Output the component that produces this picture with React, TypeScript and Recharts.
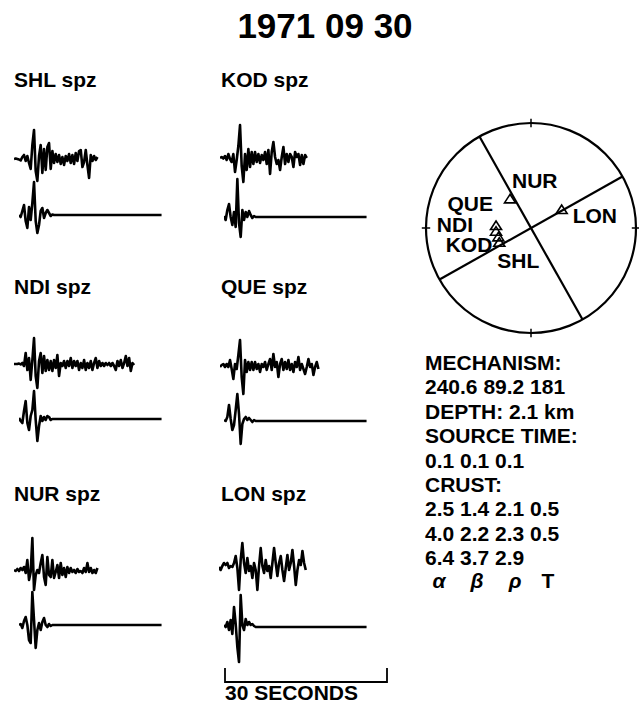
import { LineChart, Line, XAxis, YAxis, ScatterChart, Scatter, ReferenceDot, ReferenceLine } from 'recharts';

// seismogram sampling
const DT = 0.309; // seconds per sample
const SYN_LENGTH = 26.4; // seconds, synthetic trace length
const SCALE_SECONDS = 30;

// observed (top) and synthetic (bottom) traces, amplitude in plot units
const SHL_OBS = [0, 0.5, 0, -0.5, -1.5, 2, 4, -2, 3, -4, -10, 14, 29, -12, -22, 3, 14, -14, 10, -11, 12, 16, -10, 8, -4, 5, -3, 4, -5, 2, -6, 3, -2, 5, -4, 4, -5, 6, -2, 8, 9, -8, -3, 9, -6, -19, 4, -2, 3, -1, 2];
const SHL_SYN = [0, -2, 4, 10, -6, -13, 8, -5, 12, 33, -6, -18, -10, 4, 7, -3, 2, 5, 2, -1, 0.5, 0];

const KOD_OBS = [0, 1, -0.5, 2, -2, 4, -1, -4, 4, -14, -2, 12, 33, -8, -24, 4, -12, 9, -9, 6, -6, 6, -4, 4, -5, 3, -2, 6, -6, 8, -16, 6, 16, 1, -6, -2, -12, 1, 11, -6, 4, -4, 4, 1, -9, 6, 1, 4, -7, 3, -6, 3, 0];
const KOD_SYN = [1, -3, 7, 13, 0, -8, 5, -10, 38, -6, -20, 7, -3, 5, 0, 6, 2, -1, 1, 0];

const NDI_OBS = [0, 0, 0, 0.5, -0.5, 1, -2, 11, -6, 6, -16, 4, 26, -12, -24, 3, 11, -9, 8, -7, 4, -6, 3, -7, 4, -4, 9, -12, 1, -2, 3, -4, 3, -2, 6, -4, 3, -2, 3, -6, 1, -4, 4, -6, 1, -4, 3, -6, 1, 6, -4, 3, -2, 1, -2, 1, -1, 1, -2, 1, -2, -6, 3, -2, 4, -4, 1, 8, -2, 6, -7, 1, -1];
const NDI_SYN = [1, -2, -4, 8, 18, -4, -11, 3, 9, 28, -1, -22, -7, 3, -2, 2, -1, 3, 2, -1, 0, 0];

const QUE_OBS = [0, 2, 3, 0, 3, 0, 7, -2, -12, 3, -2, 12, 27, -10, -27, 7, -5, 5, -3, 5, -3, 5, -2, 3, -5, 3, 0, 5, -3, 3, 8, -3, 13, 0, 5, -10, 3, 8, -3, 5, -2, 7, -3, 3, -5, 5, 0, 10, -3, 3, -2, -7, 0, 8, 0, 3, -8, 0, 5, -2];
const QUE_SYN = [1, 0, 4, 16, 2, -9, -4, 11, 27, 7, -23, -3, 2, 4, 1, 3, 1, -1, 1, 0];

const NUR_OBS = [0, -1, 1, -1, 2, 0, 3, -3, 10, -10, -2, 32, -20, -5, 0, -3, 7, 15, -7, -15, 13, -5, -7, 10, -8, -2, 5, -8, 7, -5, 2, -7, 3, -3, 2, -2, 0, -3, 1, -2, -1, -3, 2, -2, 7, -2, 2, -3, 0, -3, 2];
const NUR_SYN = [0, 1, -3, 4, 8, 0, -15, -18, 33, 5, -23, -5, 2, -5, 3, 7, 0, -2, 1, -1, 0];

const LON_OBS = [0, -3, 1, 4, 2, 4, -1, 1, 0, 4, 11, -1, -23, 7, 24, 4, -6, 9, -4, 1, -11, 4, -3, -23, 1, 19, 1, -6, 7, -4, 1, -11, 4, 19, 4, -9, 4, 11, -3, -14, -1, 12, -3, 4, 17, 1, -18, -3, 7, 2, 16, 4, -3];
const LON_SYN = [2, 0, 5, -3, 7, -7, 20, 3, -20, -35, 32, 2, -3, 8, 2, 5, 2, 3, 1, 0];

// focal mechanism
const EVENT_DATE = '1971 09 30';
const MECHANISM = [240.6, 89.2, 181];
const NODAL_STRIKES = [240.6, 150.6];
const DEPTH_KM = 2.1;
const SOURCE_TIME = [0.1, 0.1, 0.1];
const CRUST = [
  [2.5, 1.4, 2.1, 0.5],
  [4.0, 2.2, 2.3, 0.5],
  [6.4, 3.7, 2.9],
];
const CRUST_LABELS = ['α', 'β', 'ρ', 'T'];

// station positions on the projection (unit circle)
const STATION_NAMES = ['QUE', 'NDI', 'KOD', 'SHL', 'NUR', 'LON'];
const STATION_X = [-0.333, -0.333, -0.311, -0.302, -0.2, 0.292];
const STATION_Y = [0.019, -0.035, -0.089, -0.14, 0.273, 0.171];

const FONT = '"Liberation Sans", Arial, Helvetica, sans-serif';

// label offsets around each triangle (px)
const LABEL_OFFSET: Record<string, [number, number, string]> = {
  QUE: [-3, -15, 'end'],
  NDI: [-23, 0, 'end'],
  KOD: [-6, 15, 'end'],
  SHL: [-2, 25, 'start'],
  NUR: [2, -11, 'start'],
  LON: [11, 13, 'start'],
};

const PANELS = [
  { name: 'SHL', obs: SHL_OBS, syn: SHL_SYN, lx: 14, ly: 87, ox: 14, oy: 159, sx: 18.5, sy: 215 },
  { name: 'KOD', obs: KOD_OBS, syn: KOD_SYN, lx: 221, ly: 87, ox: 219.5, oy: 158, sx: 224, sy: 216.5 },
  { name: 'NDI', obs: NDI_OBS, syn: NDI_SYN, lx: 14, ly: 294, ox: 13.5, oy: 364, sx: 18.5, sy: 419 },
  { name: 'QUE', obs: QUE_OBS, syn: QUE_SYN, lx: 221, ly: 294, ox: 219.5, oy: 366.5, sx: 224, sy: 420.5 },
  { name: 'NUR', obs: NUR_OBS, syn: NUR_SYN, lx: 14, ly: 501, ox: 14, oy: 570, sx: 18.5, sy: 625 },
  { name: 'LON', obs: LON_OBS, syn: LON_SYN, lx: 221, ly: 501, ox: 219, oy: 567, sx: 224, sy: 626.5 },
];

function Trace({ values, left, center, tail }: { values: number[]; left: number; center: number; tail?: number }) {
  const data = values.map((v, i) => ({ t: i * DT, v }));
  if (tail) data.push({ t: tail, v: 0 });
  return (
    <div style={{ position: 'absolute', left, top: center - 45 }}>
      <LineChart width={162} height={90} data={data} margin={{ top: 0, right: 0, bottom: 0, left: 0 }}>
        <XAxis type="number" dataKey="t" domain={[0, SCALE_SECONDS]} hide />
        <YAxis type="number" domain={[-45, 45]} hide />
        <Line
          type="linear"
          dataKey="v"
          stroke="#000"
          strokeWidth={2.6}
          strokeLinejoin="round"
          dot={false}
          isAnimationActive={false}
        />
      </LineChart>
    </div>
  );
}

function ScaleBar() {
  const data = [
    { t: 0, v: 1 },
    { t: 0, v: 0 },
    { t: SCALE_SECONDS, v: 0 },
    { t: SCALE_SECONDS, v: 1 },
  ];
  return (
    <div style={{ position: 'absolute', left: 220, top: 666 }}>
      <LineChart width={172} height={18} data={data} margin={{ top: 2, right: 5, bottom: 2, left: 5 }}>
        <XAxis type="number" dataKey="t" domain={[0, SCALE_SECONDS]} hide />
        <YAxis type="number" domain={[0, 1]} hide />
        <Line type="linear" dataKey="v" stroke="#000" strokeWidth={1.8} dot={false} isAnimationActive={false} />
      </LineChart>
    </div>
  );
}

const triangleShape = (props: any) => {
  const { cx, cy, payload } = props;
  const [dx, dy, anchor] = LABEL_OFFSET[payload.name];
  return (
    <g>
      <path
        d={`M${cx},${cy - 5} L${cx - 5.5},${cy + 3.5} L${cx + 5.5},${cy + 3.5} Z`}
        fill="none"
        stroke="#000"
        strokeWidth={1.6}
      />
      <text
        x={cx + dx}
        y={cy + dy}
        textAnchor={anchor}
        fontFamily={FONT}
        fontWeight="bold"
        fontSize={21}
        fill="#000"
      >
        {payload.name}
      </text>
    </g>
  );
};

function Beachball() {
  const stations = STATION_NAMES.map((name, i) => ({ name, x: STATION_X[i], y: STATION_Y[i] }));
  const rad = Math.PI / 180;
  const ticks = [0, 90, 180, 270];
  return (
    <div style={{ position: 'absolute', left: 411, top: 108 }}>
      <ScatterChart width={240} height={240} margin={{ top: 15, right: 15, bottom: 15, left: 15 }}>
        <XAxis type="number" dataKey="x" domain={[-1, 1]} hide />
        <YAxis type="number" dataKey="y" domain={[-1, 1]} hide />
        <ReferenceDot x={0} y={0} r={105} fill="none" stroke="#000" strokeWidth={2.2} ifOverflow="visible" />
        {ticks.map((az) => (
          <ReferenceLine
            key={`t${az}`}
            ifOverflow="visible"
            stroke="#000"
            strokeWidth={1.5}
            segment={[
              { x: 0.96 * Math.sin(az * rad), y: 0.96 * Math.cos(az * rad) },
              { x: 1.04 * Math.sin(az * rad), y: 1.04 * Math.cos(az * rad) },
            ]}
          />
        ))}
        {NODAL_STRIKES.map((s) => (
          <ReferenceLine
            key={`n${s}`}
            ifOverflow="visible"
            stroke="#000"
            strokeWidth={2.2}
            segment={[
              { x: Math.sin(s * rad), y: Math.cos(s * rad) },
              { x: -Math.sin(s * rad), y: -Math.cos(s * rad) },
            ]}
          />
        ))}
        <Scatter data={stations} shape={triangleShape} isAnimationActive={false} />
      </ScatterChart>
    </div>
  );
}

export default function App() {
  const textLines = [
    'MECHANISM:',
    MECHANISM.join(' '),
    `DEPTH: ${DEPTH_KM} km`,
    'SOURCE TIME:',
    SOURCE_TIME.join(' '),
    'CRUST:',
    ...CRUST.map((row) => row.map((v) => v.toFixed(1)).join(' ')),
  ];
  const greekX = [439, 477, 515, 548];
  return (
    <div
      style={{
        position: 'absolute',
        left: 0,
        top: 0,
        width: 639,
        height: 705,
        background: '#fff',
        overflow: 'hidden',
        fontFamily: FONT,
      }}
    >
      <svg width={639} height={705} style={{ position: 'absolute', left: 0, top: 0 }}>
        <g fontFamily={FONT} fontWeight="bold" fill="#000">
          <text x={325} y={38} fontSize={35} textAnchor="middle">
            {EVENT_DATE}
          </text>
          {PANELS.map((p) => (
            <text key={p.name} x={p.lx} y={p.ly} fontSize={21}>
              {p.name} spz
            </text>
          ))}
          {textLines.map((line, i) => (
            <text key={i} x={425} y={370 + i * 24.4} fontSize={21}>
              {line}
            </text>
          ))}
          {CRUST_LABELS.map((g, i) => (
            <text
              key={g}
              x={greekX[i]}
              y={588}
              fontSize={21}
              textAnchor="middle"
              fontStyle={g === 'T' ? 'normal' : 'italic'}
            >
              {g}
            </text>
          ))}
          <text x={225} y={700} fontSize={21}>
            {SCALE_SECONDS} SECONDS
          </text>
        </g>
      </svg>
      {PANELS.map((p) => (
        <div key={p.name}>
          <Trace values={p.obs} left={p.ox} center={p.oy} />
          <Trace values={p.syn} left={p.sx} center={p.sy} tail={SYN_LENGTH} />
        </div>
      ))}
      <ScaleBar />
      <Beachball />
    </div>
  );
}
